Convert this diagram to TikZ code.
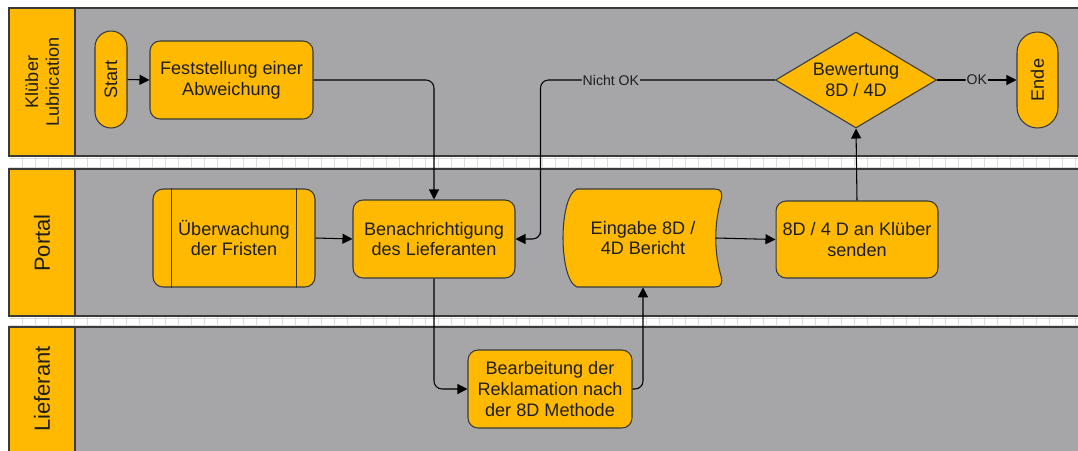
\documentclass[tikz,border=0pt]{standalone}
\usepackage{fontspec}
\setmainfont{Liberation Sans}
\usepackage{tikz}
\usetikzlibrary{arrows.meta}
\usetikzlibrary{shapes.geometric}
\usetikzlibrary{calc}

\definecolor{laneorange}{HTML}{FFB900}
\definecolor{lanegray}{HTML}{A6A6A8}
\definecolor{framegray}{HTML}{3A3A3A}
\definecolor{gridgray}{HTML}{DCDCDC}
\definecolor{textdark}{HTML}{1E1E1E}

\tikzset{
  nodefont/.style={font=\fontsize{10.3}{11.9}\selectfont},
  procbox/.style={draw=framegray, fill=laneorange, line width=0.6pt, rounded corners=0.2cm,
    align=center, text=textdark, inner sep=1pt, nodefont},
  terminal/.style={draw=framegray, fill=laneorange, line width=0.6pt, rotate=90,
    text=textdark, inner sep=1pt, nodefont},
  decision/.style={shape=diamond, draw=framegray, fill=laneorange, line width=0.6pt, aspect=1.68,
    align=center, text=textdark, inner sep=0pt, minimum width=3.22cm, minimum height=1.92cm, nodefont},
  flow/.style={draw=black, line width=0.6pt, rounded corners=0.16cm, -{Triangle[length=2mm,width=2mm]}},
  flowlabel/.style={fill=lanegray, inner sep=0.5pt, text=textdark, font=\fontsize{8}{9}\selectfont},
  lanebody/.style={draw=framegray, fill=lanegray, line width=1pt},
  lanehead/.style={draw=framegray, fill=laneorange, line width=1pt},
  lanelabel/.style={rotate=90, align=center, text=textdark},
}

\begin{document}
\begin{tikzpicture}[x=0.02cm, y=-0.02cm]
  \clip (0,0) rectangle (1078,450);
  \fill[white] (0,0) rectangle (1078,450);

  % separator strips
  \foreach \ya/\yb in {156/169, 316/327}{
    \fill[white] (9,\ya) rectangle (1100,\yb);
    \foreach \x in {22,35,...,1090}
      \draw[gridgray, line width=0.5pt] (\x,\ya) -- (\x,\yb);
    \draw[gridgray, line width=0.5pt] (9,{\ya+2}) -- (1100,{\ya+2});
    \draw[gridgray, line width=0.5pt] (9,{\yb-2}) -- (1100,{\yb-2});
  }

  % lanes
  \draw[lanebody] (9,8) rectangle (1100,156);
  \draw[lanehead] (9,8) rectangle (75,156);
  \draw[lanebody] (9,169) rectangle (1100,316);
  \draw[lanehead] (9,169) rectangle (75,316);
  \draw[lanebody] (9,327) rectangle (1100,480);
  \draw[lanehead] (9,327) rectangle (75,480);

  \node[lanelabel, font=\fontsize{10.3}{11.9}\selectfont] (kluber) at (42,82) {Klüber\\Lubrication};
  \node[lanelabel, font=\fontsize{12.5}{14}\selectfont] (portal) at (42,243) {Portal};
  \node[lanelabel, font=\fontsize{12.5}{14}\selectfont] (lieferant) at (42,389) {Lieferant};

  % steps
  \node[terminal, minimum width=1.94cm, minimum height=0.64cm, rounded corners=0.32cm] (start) at (111,79.5) {Start};
  \node[procbox, minimum width=3.26cm, minimum height=1.56cm] (feststellung) at (231.5,80) {Feststellung einer\\Abweichung};
  \node[procbox, minimum width=3.24cm, minimum height=1.96cm] (ueberwachung) at (234,238) {Überwachung\\der Fristen};
  \draw[framegray, line width=0.6pt] ($(ueberwachung.north west)+(19,0)$) -- ($(ueberwachung.south west)+(19,0)$);
  \draw[framegray, line width=0.6pt] ($(ueberwachung.north east)+(-19,0)$) -- ($(ueberwachung.south east)+(-19,0)$);
  \node[procbox, minimum width=3.24cm, minimum height=1.56cm] (benachrichtigung) at (434,239) {Benachrichtigung\\des Lieferanten};
  \node[minimum width=3.18cm, minimum height=1.96cm, inner sep=0pt] (eingabe) at (643,238) {};
  \begin{scope}[shift={(eingabe.center)}]
    \draw[framegray, fill=laneorange, line width=0.6pt]
      (-66,-49) -- (72,-49) .. controls (78,-49) and (80,-45) .. (78,-38)
      .. controls (71,-14) and (71,14) .. (78,38)
      .. controls (80,45) and (78,49) .. (72,49) -- (-66,49)
      .. controls (-76,45) and (-80,20) .. (-80,0)
      .. controls (-80,-20) and (-76,-45) .. (-66,-49) -- cycle;
  \end{scope}
  \node[align=center, text=textdark, nodefont] (eingabetext) at (eingabe.center) {Eingabe 8D /\\4D Bericht};
  \node[procbox, minimum width=3.24cm, minimum height=1.54cm] (senden) at (857,239.5) {8D / 4 D an Klüber\\senden};
  \node[decision] (bewertung) at (856,80) {Bewertung\\8D / 4D};
  \node[terminal, minimum width=1.92cm, minimum height=0.82cm, rounded corners=0.41cm] (ende) at (1037.5,80) {Ende};
  \node[procbox, minimum width=3.28cm, minimum height=1.56cm] (bearbeitung) at (550,389) {Bearbeitung der\\Reklamation nach\\der 8D Methode};

  % connectors
  \draw[flow] (start.south) -- (feststellung.west);
  \draw[flow] (feststellung.east) -| (benachrichtigung.north);
  \draw[flow] (ueberwachung.east) -- (benachrichtigung.west);
  \draw[flow] (benachrichtigung.south) |- (bearbeitung.west);
  \draw[flow] (bearbeitung.east) -| (eingabe.south);
  \draw[flow] ($(eingabe.east)+(-7,0)$) -- (senden.west);
  \draw[flow] (senden.north) -- (bewertung.south);
  \draw[flow] (bewertung.east) -- node[flowlabel] {OK} (ende.north);
  \draw[flow] (bewertung.west) -| node[flowlabel, pos=0.35] {Nicht OK} ($(benachrichtigung.east)+(25,0)$) |- (benachrichtigung.east);
\end{tikzpicture}
\end{document}
